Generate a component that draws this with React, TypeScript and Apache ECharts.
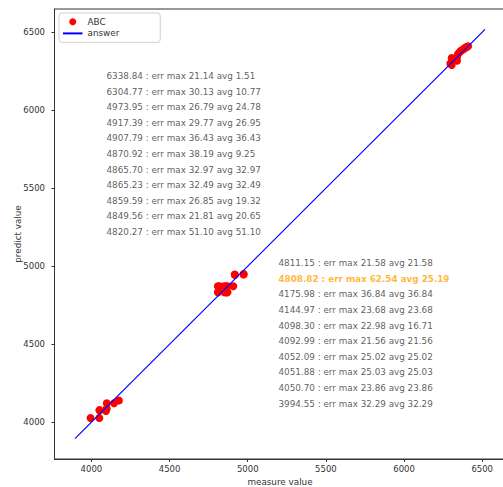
import React, { useEffect, useRef } from "react";
import * as echarts from "echarts";

// ---- data ----
const measured = [
  3994.55, 4050.7, 4051.88, 4052.09, 4092.99, 4098.3, 4098.3, 4144.97, 4175.98,
  4808.82, 4808.82, 4811.15, 4820.27, 4849.56, 4849.56, 4859.59, 4859.59, 4865.23, 4865.7,
  4870.92, 4870.92, 4907.79, 4917.39, 4917.39, 4973.95, 4973.95,
  6296, 6304.77, 6304.77, 6315, 6325, 6338.84, 6338.84, 6345, 6355, 6362, 6370, 6378,
  6385, 6392, 6400, 6410,
];
const predicted = [
  4026.84, 4026.84, 4076.91, 4077.11, 4071.43, 4121.28, 4087.86, 4121.29, 4139.14,
  4871.36, 4832.73, 4832.73, 4871.37, 4871.37, 4832.73, 4832.73, 4871.37, 4832.74, 4832.73,
  4832.73, 4871.37, 4871.36, 4947.16, 4944.22, 4947.16, 4950.4,
  6300, 6334.9, 6290, 6318, 6330, 6317.7, 6340, 6360, 6372, 6380, 6385, 6390,
  6395, 6400, 6405, 6410,
];
const answerLine = [3895, 6518];

const noteLeftMeasure = [6338.84, 6304.77, 4973.95, 4917.39, 4907.79, 4870.92, 4865.7, 4865.23, 4859.59, 4849.56, 4820.27];
const noteLeftMax = [21.14, 30.13, 26.79, 29.77, 36.43, 38.19, 32.97, 32.49, 26.85, 21.81, 51.1];
const noteLeftAvg = [1.51, 10.77, 24.78, 26.95, 36.43, 9.25, 32.97, 32.49, 19.32, 20.65, 51.1];
const noteRightMeasure = [4811.15, 4808.82, 4175.98, 4144.97, 4098.3, 4092.99, 4052.09, 4051.88, 4050.7, 3994.55];
const noteRightMax = [21.58, 62.54, 36.84, 23.68, 22.98, 21.56, 25.02, 25.03, 23.86, 32.29];
const noteRightAvg = [21.58, 25.19, 36.84, 23.68, 16.71, 21.56, 25.02, 25.03, 23.86, 32.29];
const highlightMeasure = 4808.82;

const xTicks = [4000, 4500, 5000, 5500, 6000, 6500];
const yTicks = [4000, 4500, 5000, 5500, 6000, 6500];

const FONT = "DejaVu Sans";

function noteItems(ms: number[], mx: number[], av: number[], x: number, yTop: number) {
  return ms.map((m, i) => {
    const hi = m === highlightMeasure;
    return {
      value: [x, yTop - 100 * i],
      name: `${m.toFixed(2)} : err max ${mx[i].toFixed(2)} avg ${av[i].toFixed(2)}`,
      label: hi ? { color: "#ffa500", fontWeight: "bold" } : undefined,
    };
  });
}

export default function App() {
  const ref = useRef<HTMLDivElement>(null);
  useEffect(() => {
    if (!ref.current) return;
    const chart = echarts.init(ref.current, undefined, { renderer: "svg" });
    const axisCommon = {
      type: "value",
      min: 3764,
      max: 6649,
      splitLine: { show: false },
      nameMoveOverlap: false,
      axisLine: { show: true, lineStyle: { color: "#333", width: 1 } },
      nameTextStyle: { fontSize: 8.8, color: "#333", fontFamily: FONT },
    };
    chart.setOption({
      animation: false,
      backgroundColor: "#fff",
      grid: {
        left: 54.5,
        top: 9,
        width: 451,
        height: 450,
        containLabel: false,
        outerBoundsMode: "none",
        show: true,
        borderColor: "#333",
        borderWidth: 1,
        backgroundColor: "transparent",
      },
      legend: {
        data: ["ABC", { name: "answer", itemStyle: { opacity: 0 } }],
        orient: "vertical",
        left: 59,
        top: 13,
        itemWidth: 19.5,
        itemHeight: 7,
        itemGap: 1.7,
        padding: [3.7, 41, 4, 3],
        backgroundColor: "rgba(255,255,255,0.8)",
        borderColor: "#d0d0d0",
        borderWidth: 1,
        borderRadius: 3,
        textStyle: { fontSize: 8.8, color: "#333", fontFamily: FONT, lineHeight: 10 },
      },
      xAxis: {
        ...axisCommon,
        name: "measure value",
        nameLocation: "middle",
        nameGap: 18,
        axisTick: { show: true, length: 3, customValues: xTicks, lineStyle: { color: "#333" } },
        axisLabel: { customValues: xTicks, formatter: (v: number) => String(v), fontSize: 8.5, color: "#333", fontFamily: FONT, margin: 5 },
      },
      yAxis: {
        ...axisCommon,
        name: "predict value",
        nameLocation: "middle",
        nameGap: 32,
        axisTick: { show: true, length: 3, customValues: yTicks, lineStyle: { color: "#333" } },
        axisLabel: { customValues: yTicks, formatter: (v: number) => String(v), fontSize: 8.5, color: "#333", fontFamily: FONT, margin: 9.5 },
      },
      series: [
        {
          name: "ABC",
          type: "scatter",
          symbol: "circle",
          symbolSize: 8,
          itemStyle: { color: "#ff0000", opacity: 1 },
          data: measured.map((m, i) => [m, predicted[i]]),
          z: 2,
        },
        {
          name: "answer",
          type: "line",
          symbol: "none",
          lineStyle: { color: "#0000ff", width: 1.2 },
          itemStyle: { color: "#0000ff" },
          data: [
            [answerLine[0], answerLine[0]],
            [answerLine[1], answerLine[1]],
          ],
          z: 3,
        },
        {
          name: "notes",
          type: "scatter",
          symbolSize: 1,
          itemStyle: { color: "transparent" },
          silent: true,
          label: {
            show: true,
            formatter: "{b}",
            position: [0, 0],
            align: "left",
            verticalAlign: "bottom",
            offset: [0, 2],
            fontSize: 8.8,
            color: "#333",
            fontFamily: FONT,
          },
          data: [
            ...noteItems(noteLeftMeasure, noteLeftMax, noteLeftAvg, 4100, 6200),
            ...noteItems(noteRightMeasure, noteRightMax, noteRightAvg, 5200, 5000),
          ],
          z: 4,
        },
      ],
    });
    return () => chart.dispose();
  }, []);
  return <div ref={ref} style={{ position: "absolute", left: 0, top: 0, width: 503, height: 487 }} />;
}
